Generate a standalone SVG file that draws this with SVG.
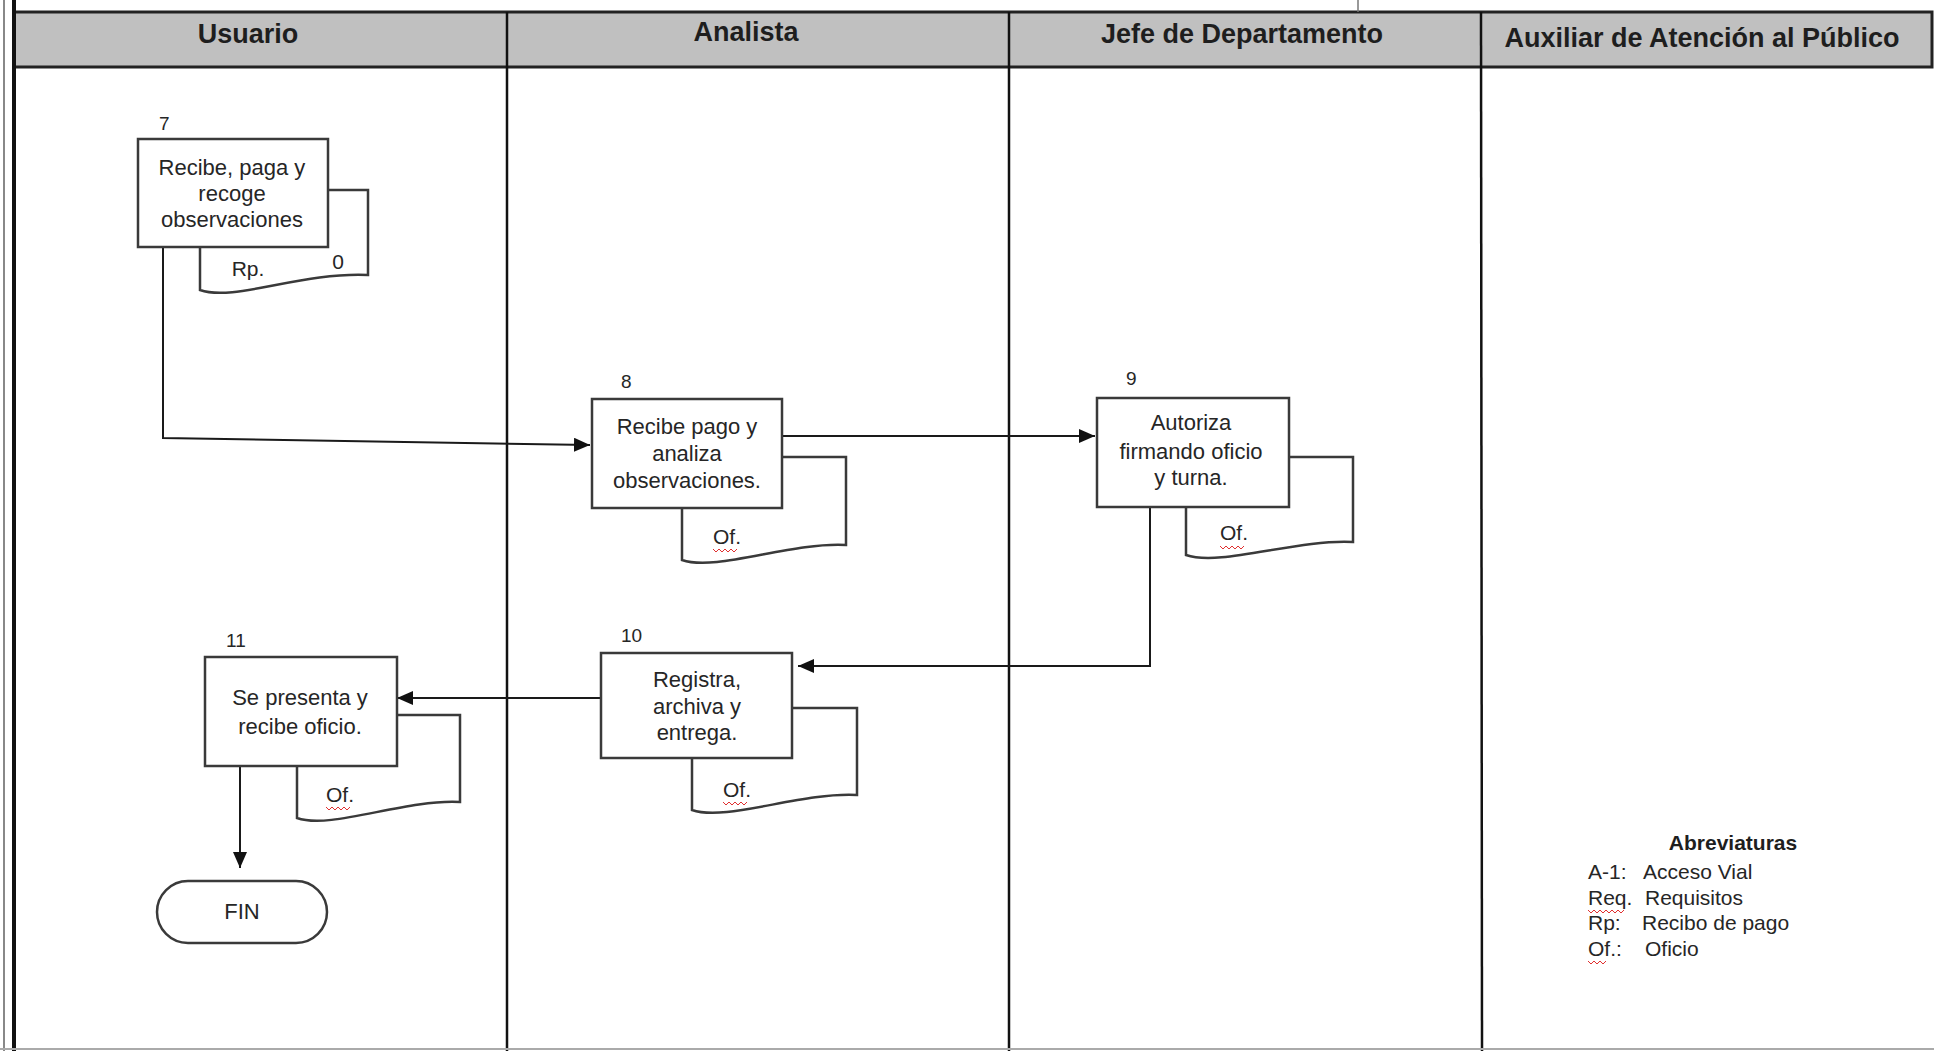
<svg xmlns="http://www.w3.org/2000/svg" width="1934" height="1051" viewBox="0 0 1934 1051">
<style>
text{font-family:"Liberation Sans",Arial,sans-serif;fill:#262626}
.hd{font-size:27px;font-weight:bold;text-anchor:middle;fill:#1e1e1e}
.t{font-size:22px;text-anchor:middle}
.n{font-size:19px}
.doc{font-size:21px;text-anchor:middle}
.box{fill:#fff;stroke:#3a3a3a;stroke-width:2.5}
.dc{fill:none;stroke:#3a3a3a;stroke-width:2.5}
.ln{fill:none;stroke:#1a1a1a;stroke-width:2}
.sq{fill:none;stroke:#e03030;stroke-width:1}
.ab{font-size:21px}
</style>
<defs>
<marker id="ar" markerUnits="userSpaceOnUse" markerWidth="18" markerHeight="14" refX="16" refY="7" orient="auto">
<path d="M0,0 L16,7 L0,14 Z" fill="#111"/>
</marker>
</defs>
<rect x="0" y="0" width="1934" height="1051" fill="#fff"/>
<g id="lanes">
<rect x="14" y="12" width="1918" height="55" fill="#c0c0c0" stroke="#222" stroke-width="3"/>
<line x1="1358" y1="0" x2="1358" y2="12" stroke="#777" stroke-width="1.5"/>
<line x1="4" y1="0" x2="4" y2="1051" stroke="#888" stroke-width="2"/>
<line x1="14" y1="0" x2="14" y2="1051" stroke="#111" stroke-width="4"/>
<line x1="507" y1="12" x2="507" y2="1051" stroke="#111" stroke-width="2.5"/>
<line x1="1009" y1="12" x2="1009" y2="1051" stroke="#111" stroke-width="2.5"/>
<line x1="1481" y1="12" x2="1482" y2="1051" stroke="#111" stroke-width="2.5"/>
<line x1="0" y1="1049" x2="1934" y2="1049" stroke="#aaa" stroke-width="2"/>
<text class="hd" x="248" y="43">Usuario</text>
<text class="hd" x="746" y="41">Analista</text>
<text class="hd" x="1242" y="43">Jefe de Departamento</text>
<text class="hd" x="1702" y="47">Auxiliar  de Atención al Público</text>
</g>
<g id="connectors">
<polyline class="ln" points="163,247 163,438 590,445" marker-end="url(#ar)"/>
<line class="ln" x1="782" y1="436" x2="1095" y2="436" marker-end="url(#ar)"/>
<polyline class="ln" points="1150,507 1150,666 798,666" marker-end="url(#ar)"/>
<line class="ln" x1="601" y1="698" x2="397" y2="698" marker-end="url(#ar)"/>
<line class="ln" x1="240" y1="766" x2="240" y2="868" marker-end="url(#ar)"/>
</g>
<g id="node7">
<text class="n" x="159" y="130">7</text>
<path class="dc" d="M200,247 V290 C234,302 300,272 368,275 V190 H328"/>
<rect class="box" x="138" y="139" width="190" height="108"/>
<text class="t" x="232" y="175">Recibe, paga y</text>
<text class="t" x="232" y="201">recoge</text>
<text class="t" x="232" y="227">observaciones</text>
<text class="doc" x="248" y="276">Rp.</text>
<text class="doc" x="338" y="269">0</text>
</g>
<g id="node8">
<text class="n" x="621" y="388">8</text>
<path class="dc" d="M682,508 V560 C716,572 790,542 846,545 V457 H782"/>
<rect class="box" x="592" y="399" width="190" height="109"/>
<text class="t" x="687" y="434">Recibe pago y</text>
<text class="t" x="687" y="461">analiza</text>
<text class="t" x="687" y="488">observaciones.</text>
<text class="doc" x="727" y="544">Of.</text>
<path class="sq" d="M713,549 l3,3 l3,-3 l3,3 l3,-3 l3,3 l3,-3 l3,3 l3,-3"/>
</g>
<g id="node9">
<text class="n" x="1126" y="385">9</text>
<path class="dc" d="M1186,507 V555 C1220,567 1296,539 1353,542 V457 H1289"/>
<rect class="box" x="1097" y="398" width="192" height="109"/>
<text class="t" x="1191" y="430">Autoriza</text>
<text class="t" x="1191" y="459">firmando oficio</text>
<text class="t" x="1191" y="485">y turna.</text>
<text class="doc" x="1234" y="540">Of.</text>
<path class="sq" d="M1220,546 l3,3 l3,-3 l3,3 l3,-3 l3,3 l3,-3 l3,3 l3,-3"/>
</g>
<g id="node10">
<text class="n" x="621" y="642">10</text>
<path class="dc" d="M692,758 V810 C726,822 800,792 857,795 V708 H792"/>
<rect class="box" x="601" y="653" width="191" height="105"/>
<text class="t" x="697" y="687">Registra,</text>
<text class="t" x="697" y="714">archiva y</text>
<text class="t" x="697" y="740">entrega.</text>
<text class="doc" x="737" y="797">Of.</text>
<path class="sq" d="M723,802 l3,3 l3,-3 l3,3 l3,-3 l3,3 l3,-3 l3,3 l3,-3"/>
</g>
<g id="node11">
<text class="n" x="226" y="647">11</text>
<path class="dc" d="M297,766 V818 C331,830 404,799 460,802 V715 H397"/>
<rect class="box" x="205" y="657" width="192" height="109"/>
<text class="t" x="300" y="705">Se presenta y</text>
<text class="t" x="300" y="734">recibe oficio.</text>
<text class="doc" x="340" y="802">Of.</text>
<path class="sq" d="M326,807 l3,3 l3,-3 l3,3 l3,-3 l3,3 l3,-3 l3,3 l3,-3"/>
</g>
<g id="fin">
<rect class="box" x="157" y="881" width="170" height="62" rx="31"/>
<text class="t" x="242" y="919">FIN</text>
</g>
<g id="abreviaturas">
<text x="1733" y="850" style="font-size:21px;font-weight:bold;text-anchor:middle;fill:#1e1e1e">Abreviaturas</text>
<text class="ab" x="1588" y="879">A-1:</text>
<text class="ab" x="1643" y="879">Acceso Vial</text>
<text class="ab" x="1588" y="905">Req.</text>
<text class="ab" x="1645" y="905">Requisitos</text>
<text class="ab" x="1588" y="930">Rp:</text>
<text class="ab" x="1642" y="930">Recibo de pago</text>
<text class="ab" x="1588" y="956">Of.:</text>
<text class="ab" x="1645" y="956">Oficio</text>
<path class="sq" d="M1588,910 l3,3 l3,-3 l3,3 l3,-3 l3,3 l3,-3 l3,3 l3,-3 l3,3 l3,-3 l3,3 l3,-3"/>
<path class="sq" d="M1588,961 l3,3 l3,-3 l3,3 l3,-3 l3,3 l3,-3"/>
</g>
</svg>
